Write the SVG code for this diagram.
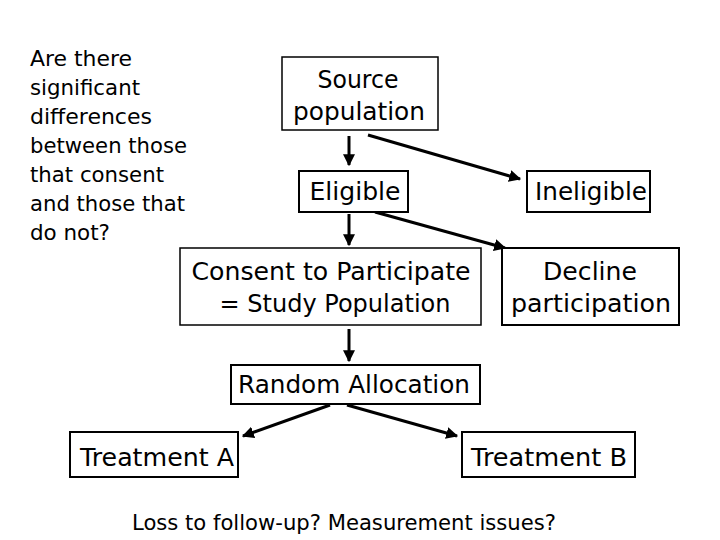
<svg xmlns="http://www.w3.org/2000/svg" width="720" height="540" viewBox="0 0 720 540">
<defs>
<marker id="ah" viewBox="0 0 10 10" refX="9" refY="5" markerWidth="4" markerHeight="4" orient="auto" markerUnits="strokeWidth">
<path d="M0,0 L10,5 L0,10 z" fill="#000"/>
</marker>
<style>
text{font-family:"DejaVu Sans","Liberation Sans",sans-serif;fill:#000;text-anchor:middle}
.lbl{font-size:24px}
.note{font-size:22px}
.box{fill:#fff;stroke:#000;stroke-width:2}
.thin{stroke-width:1.5}
.arr{stroke:#000;stroke-width:3;fill:none;marker-end:url(#ah)}
</style>
</defs>
<rect width="720" height="540" fill="#fff"/>
<g id="question" style="text-anchor:start">
<text class="note" x="30" y="66" style="text-anchor:start" textLength="102" lengthAdjust="spacingAndGlyphs">Are there</text>
<text class="note" x="30" y="95" style="text-anchor:start" textLength="110" lengthAdjust="spacingAndGlyphs">significant</text>
<text class="note" x="30" y="124" style="text-anchor:start" textLength="122" lengthAdjust="spacingAndGlyphs">differences</text>
<text class="note" x="30" y="153" style="text-anchor:start" textLength="157" lengthAdjust="spacingAndGlyphs">between those</text>
<text class="note" x="30" y="182" style="text-anchor:start" textLength="134" lengthAdjust="spacingAndGlyphs">that consent</text>
<text class="note" x="30" y="211" style="text-anchor:start" textLength="155" lengthAdjust="spacingAndGlyphs">and those that</text>
<text class="note" x="30" y="240" style="text-anchor:start" textLength="80" lengthAdjust="spacingAndGlyphs">do not?</text>
</g>
<g id="connectors">
<line class="arr" x1="349" y1="136" x2="349" y2="165"/>
<line class="arr" x1="368" y1="135" x2="520" y2="179"/>
<line class="arr" x1="349" y1="214" x2="349" y2="245"/>
<line class="arr" x1="375" y1="212" x2="505" y2="248"/>
<line class="arr" x1="349" y1="329" x2="349" y2="361"/>
<line class="arr" x1="330" y1="405" x2="243" y2="436"/>
<line class="arr" x1="347" y1="405" x2="457" y2="436"/>
</g>
<g id="source">
<rect class="box thin" x="282" y="57" width="156" height="73"/>
<text class="lbl" x="358" y="88" textLength="81" lengthAdjust="spacingAndGlyphs">Source</text>
<text class="lbl" x="359" y="120" textLength="132" lengthAdjust="spacingAndGlyphs">population</text>
</g>
<g id="eligible">
<rect class="box" x="299" y="171" width="109" height="41"/>
<text class="lbl" x="355" y="200" textLength="91" lengthAdjust="spacingAndGlyphs">Eligible</text>
</g>
<g id="ineligible">
<rect class="box" x="527" y="171" width="123" height="41"/>
<text class="lbl" x="591" y="200" textLength="112" lengthAdjust="spacingAndGlyphs">Ineligible</text>
</g>
<g id="consent">
<rect class="box thin" x="180" y="248" width="301" height="77"/>
<text class="lbl" x="331" y="280" textLength="279" lengthAdjust="spacingAndGlyphs">Consent to Participate</text>
<text class="lbl" x="335" y="312" textLength="231" lengthAdjust="spacingAndGlyphs">= Study Population</text>
</g>
<g id="decline">
<rect class="box" x="502" y="248" width="177" height="77"/>
<text class="lbl" x="590" y="280" textLength="94" lengthAdjust="spacingAndGlyphs">Decline</text>
<text class="lbl" x="591" y="312" textLength="160" lengthAdjust="spacingAndGlyphs">participation</text>
</g>
<g id="random">
<rect class="box" x="231" y="365" width="249" height="39"/>
<text class="lbl" x="354" y="393" textLength="232" lengthAdjust="spacingAndGlyphs">Random Allocation</text>
</g>
<g id="treatA">
<rect class="box" x="70" y="432" width="168" height="45"/>
<text class="lbl" x="157" y="466" textLength="154" lengthAdjust="spacingAndGlyphs">Treatment A</text>
</g>
<g id="treatB">
<rect class="box" x="462" y="432" width="173" height="45"/>
<text class="lbl" x="549" y="466" textLength="156" lengthAdjust="spacingAndGlyphs">Treatment B</text>
</g>
<g id="footer">
<text class="note" x="344" y="530" textLength="424" lengthAdjust="spacingAndGlyphs">Loss to follow-up? Measurement issues?</text>
</g>
</svg>
